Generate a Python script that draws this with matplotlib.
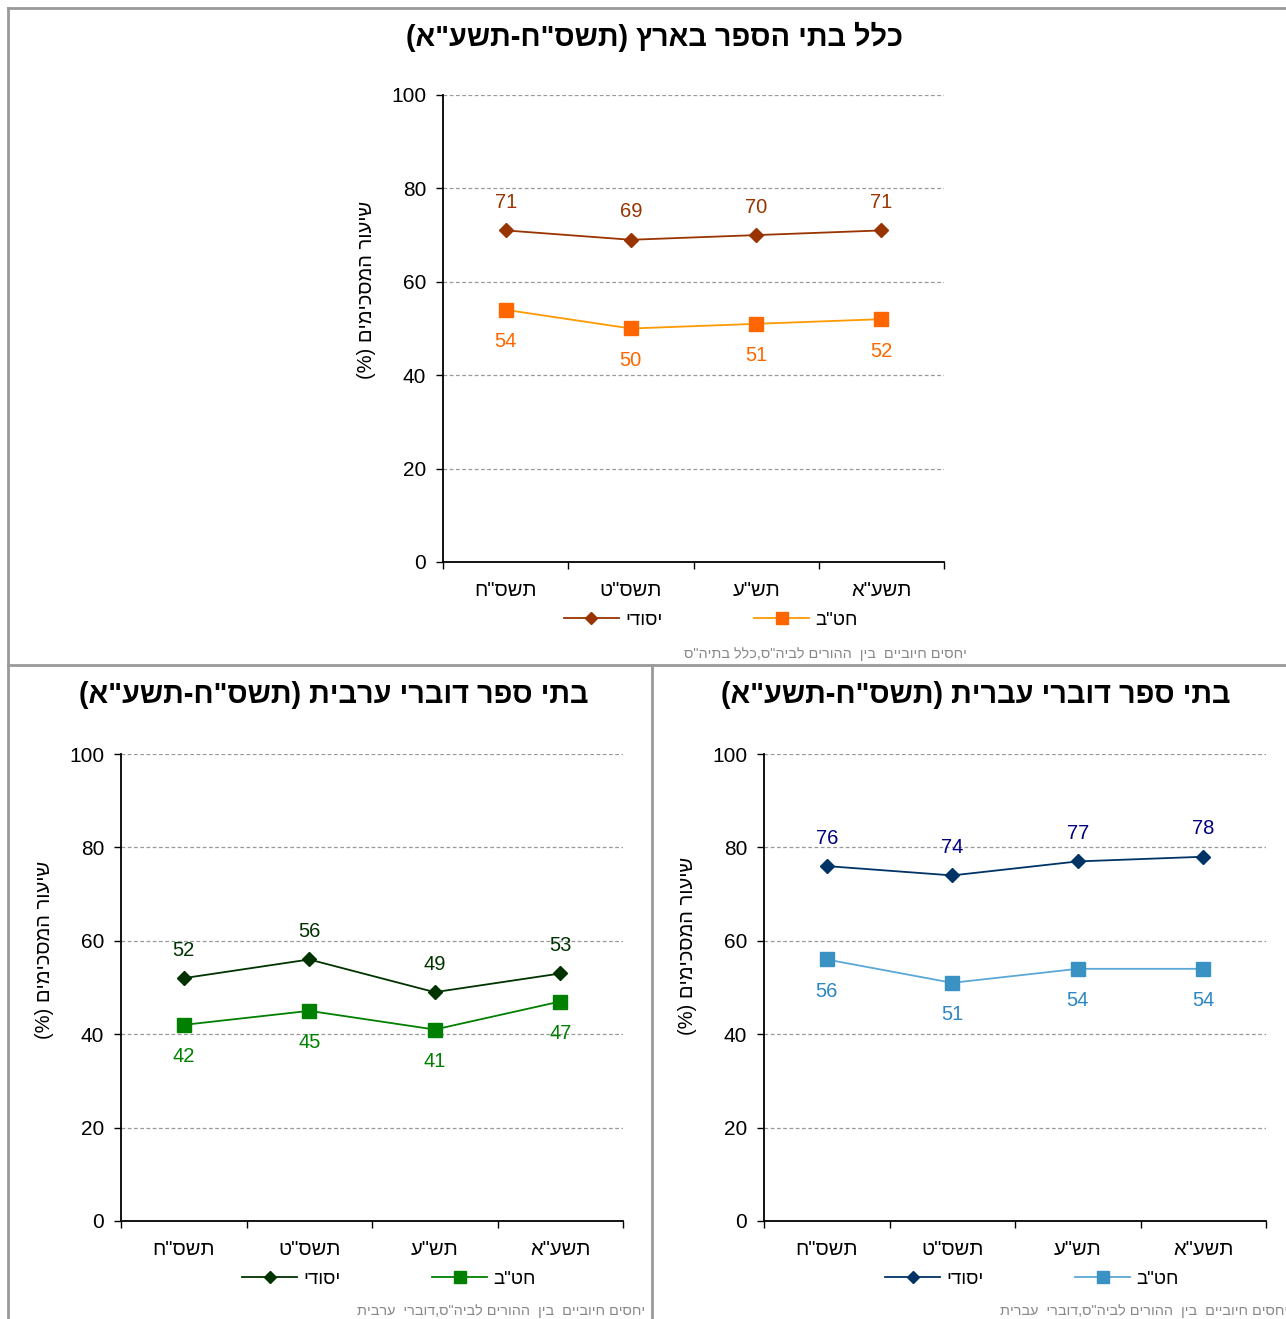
import numpy as np
import matplotlib.pyplot as plt
from matplotlib.lines import Line2D

plt.rcParams['font.family'] = ['Liberation Sans', 'DejaVu Sans']

# data
years = ['תשס"ח', 'תשס"ט', 'תש"ע', 'תשע"א']
all_yesodi = [71, 69, 70, 71]
all_hatab = [54, 50, 51, 52]
arab_yesodi = [52, 56, 49, 53]
arab_hatab = [42, 45, 41, 47]
heb_yesodi = [76, 74, 77, 78]
heb_hatab = [56, 51, 54, 54]

lbl_yesodi = 'יסודי'
lbl_hatab = 'חט"ב'
ylabel = 'שיעור המסכימים (%)'
title_all = 'כלל בתי הספר בארץ (תשס"ח-תשע"א)'
title_arab = 'בתי ספר דוברי ערבית (תשס"ח-תשע"א)'
title_heb = 'בתי ספר דוברי עברית (תשס"ח-תשע"א)'
foot_all = 'יחסים חיוביים  בין  ההורים לביה"ס,כלל בתיה"ס'
foot_arab = 'יחסים חיוביים  בין  ההורים לביה"ס,דוברי  ערבית'
foot_heb = 'יחסים חיוביים  בין  ההורים לביה"ס,דוברי  עברית'


def heb(s):
    # matplotlib has no bidi, so flip to visual order
    r = s[::-1]
    return r.translate(str.maketrans('()', ')('))


W, H = 1286, 1319
fig = plt.figure(figsize=(W / 100, H / 100), dpi=100)


def px(x0, y0, x1, y1):
    return [x0 / W, 1 - y1 / H, (x1 - x0) / W, (y1 - y0) / H]


def panel(rect, s1, s2, c1, m1, t1, c2, m2, l2, t2, title, tpos, ylpos, legpos, foot, fpos):
    ax = fig.add_axes(px(*rect))
    x = np.arange(len(years))
    ax.plot(x, s1, color=c1, marker='D', markersize=7.5, markerfacecolor=m1, markeredgecolor=m1, lw=1.3)
    ax.plot(x, s2, color=l2, marker='s', markersize=9.5, markerfacecolor=m2, markeredgecolor=m2, lw=1.3)
    for i in range(len(x)):
        ax.annotate(str(s1[i]), (x[i], s1[i]), xytext=(0, 20), textcoords='offset points',
                    ha='center', va='center', fontsize=14.5, color=t1)
        ax.annotate(str(s2[i]), (x[i], s2[i]), xytext=(0, -23), textcoords='offset points',
                    ha='center', va='center', fontsize=14.5, color=t2)
    ax.set_xlim(-0.5, 3.5)
    ax.set_ylim(0, 100)
    ax.set_yticks(range(0, 101, 20))
    ax.set_xticks(x)
    ax.set_xticklabels([heb(y) for y in years])
    ax.set_xticks(np.arange(-0.5, 4, 1), minor=True)
    ax.tick_params(axis='x', which='major', length=0, pad=14, labelsize=14.5)
    ax.tick_params(axis='x', which='minor', length=5, direction='out', width=1)
    ax.tick_params(axis='y', length=5, direction='out', width=1, labelsize=15, pad=7)
    for yv in range(20, 101, 20):
        ax.axhline(yv, color='#999999', lw=0.9, ls=(0, (3, 2)), zorder=0)
    ax.spines['top'].set_visible(False)
    ax.spines['right'].set_visible(False)
    ax.spines['left'].set_linewidth(1.3)
    ax.spines['bottom'].set_linewidth(1.3)

    fig.text(tpos[0] / W, 1 - tpos[1] / H, heb(title), ha='center', va='center',
             fontsize=20.8, fontweight='bold')
    fig.text(ylpos[0] / W, 1 - ylpos[1] / H, heb(ylabel), ha='center', va='center',
             rotation=90, fontsize=14.5)
    h1 = Line2D([], [], color=c1, marker='D', markersize=6.5, markerfacecolor=m1, markeredgecolor=m1, lw=1.3)
    h2 = Line2D([], [], color=l2, marker='s', markersize=8.5, markerfacecolor=m2, markeredgecolor=m2, lw=1.3)
    fig.legend([h1, h2], [heb(lbl_yesodi), heb(lbl_hatab)], loc='center',
               bbox_to_anchor=(legpos[0] / W, 1 - legpos[1] / H), ncol=2, frameon=False,
               fontsize=13.5, handlelength=2.9, columnspacing=4.9, handletextpad=0.35)
    fig.text(fpos[0] / W, 1 - fpos[1] / H, heb(foot), ha='right', va='center',
             fontsize=10.4, color='#888888')
    return ax


panel((443, 95, 944, 562), all_yesodi, all_hatab,
      '#993300', '#993300', '#993300', '#FF6600', '#FF6600', '#FF9900', '#FF6600',
      title_all, (655, 37), (367, 290), (711, 620), foot_all, (967, 654))

panel((121, 754, 623, 1221), arab_yesodi, arab_hatab,
      '#003300', '#003300', '#003300', '#008000', '#008000', '#008000', '#008000',
      title_arab, (334, 695), (45, 950), (389, 1279), foot_arab, (645, 1311))

panel((764, 754, 1266, 1221), heb_yesodi, heb_hatab,
      '#003366', '#003366', '#000080', '#3A92C4', '#3A92C4', '#5BA8D6', '#2E86C1',
      title_heb, (976, 695), (687, 946), (1032, 1279), foot_heb, (1288, 1311))

# panel frame lines
for seg in [((8, 1286), (8, 8)), ((8, 8), (8, 1319)), ((8, 1286), (665, 665)), ((652, 652), (665, 1319))]:
    fig.add_artist(Line2D([s / W for s in seg[0]], [1 - s / H for s in seg[1]],
                          color='#999999', lw=2))

fig.savefig('out.png', dpi=100)
